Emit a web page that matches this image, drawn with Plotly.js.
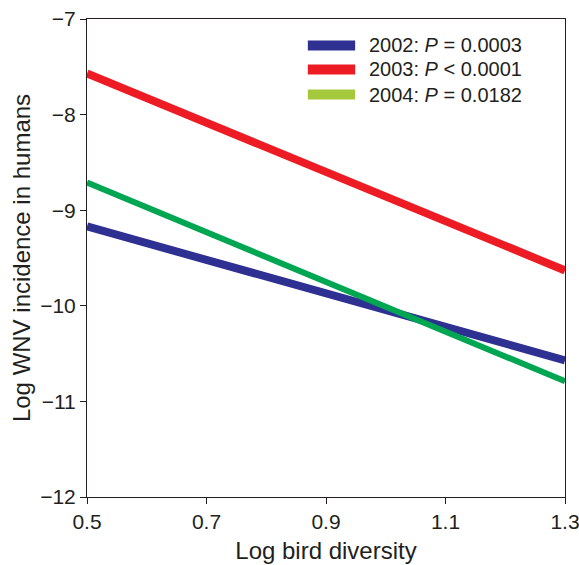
<!DOCTYPE html>
<html><head><meta charset="utf-8">
<script src="https://cdn.plot.ly/plotly-3.0.1.min.js"></script>
<style>html,body{margin:0;padding:0;background:#fff}</style>
</head><body><div id="chart" style="width:579px;height:565px"></div>
<script>
const years = ["2002", "2003", "2004"];
const pLabels = ["<i>P</i> = 0.0003", "<i>P</i> < 0.0001", "<i>P</i> = 0.0182"];
const xEnds = [0.5, 1.3];
const y2002 = [-9.17, -10.57];
const y2003 = [-7.57, -9.63];
const y2004 = [-8.71, -10.79];
const lineColors = ["#2e3192", "#ed1c24", "#00a651"];
const legendColors = ["#2e3192", "#ed1c24", "#a6c83c"];
const lineWidths = [8, 8, 6];
const xTicks = [0.5, 0.7, 0.9, 1.1, 1.3];
const yTicks = [-12, -11, -10, -9, -8, -7];

const FF = "Liberation Sans, Arial, sans-serif";
const series = [y2002, y2003, y2004];
const traces = series.map((ys, i) => ({
  x: xEnds, y: ys, mode: "lines", name: years[i],
  line: {color: lineColors[i], width: lineWidths[i]},
  showlegend: false, hoverinfo: "skip", cliponaxis: false
}));

const legY = [0.9446, 0.8944, 0.842];
const shapes = years.map((yr, i) => ({
  type: "line", xref: "paper", yref: "paper",
  x0: 0.462, x1: 0.561, y0: legY[i], y1: legY[i],
  line: {color: legendColors[i], width: 10}
}));
const annotations = years.map((yr, i) => ({
  xref: "paper", yref: "paper", x: 0.586, y: legY[i],
  xanchor: "left", yanchor: "middle", showarrow: false,
  text: yr + ": " + pLabels[i],
  font: {family: FF, size: 20, color: "#231f20"}
}));

const axisFont = {family: FF, size: 21, color: "#231f20"};
const titleFont = {family: FF, size: 24, color: "#231f20"};
const layout = {
  width: 579, height: 565,
  margin: {l: 87, r: 14, t: 19, b: 68},
  paper_bgcolor: "#fff", plot_bgcolor: "#fff",
  showlegend: false,
  xaxis: {
    range: [0.5, 1.3], tickvals: xTicks, ticktext: xTicks.map(v => v.toFixed(1)),
    ticks: "outside", ticklen: 6, tickwidth: 1, tickcolor: "#231f20",
    showline: true, linecolor: "#231f20", linewidth: 1, mirror: true,
    showgrid: false, zeroline: false, tickfont: axisFont,
    ticklabeloverflow: "allow",
    title: {text: "Log bird diversity", font: titleFont, standoff: 9}
  },
  yaxis: {
    range: [-12, -7], tickvals: yTicks, ticktext: yTicks.map(v => "\u2212" + Math.abs(v)),
    ticks: "outside", ticklen: 6, tickwidth: 1, tickcolor: "#231f20",
    showline: true, linecolor: "#231f20", linewidth: 1, mirror: true,
    showgrid: false, zeroline: false, tickfont: axisFont,
    title: {text: "Log WNV incidence in humans", font: titleFont, standoff: 2}
  },
  shapes: shapes,
  annotations: annotations
};
Plotly.newPlot("chart", traces, layout, {displayModeBar: false, staticPlot: true});
</script>
</body></html>
